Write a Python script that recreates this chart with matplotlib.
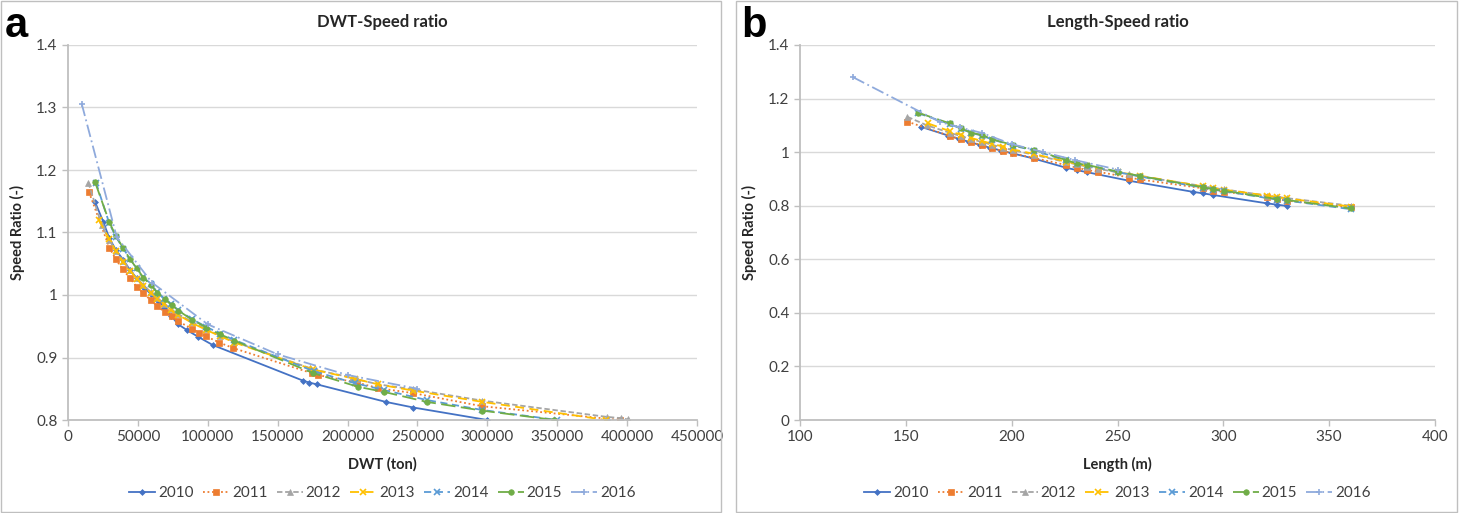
import matplotlib
matplotlib.use('Agg')
import matplotlib.pyplot as plt
from matplotlib.patches import Rectangle
from matplotlib.ticker import FuncFormatter

plt.rcParams['font.family'] = ['Lato', 'DejaVu Sans']

years = ['2010', '2011', '2012', '2013', '2014', '2015', '2016']

# panel a: DWT (ton) vs speed ratio
dwt_2010 = [19300, 25300, 29500, 34300, 39600, 44400, 49100, 54400, 59100, 64600, 69000, 74000,
            78900, 85000, 93200, 103500, 168100, 172400, 178100, 227300, 247000, 300000]
dsr_2010 = [1.149, 1.117, 1.091, 1.072, 1.056, 1.040, 1.027, 1.012, 1.002, 0.991, 0.980, 0.966,
            0.953, 0.944, 0.933, 0.920, 0.863, 0.860, 0.857, 0.829, 0.820, 0.800]
dwt_2011 = [15000, 29500, 34300, 39100, 44400, 49100, 53900, 59100, 63900, 69100, 74200, 78900,
            88500, 93700, 98700, 108200, 118300, 174300, 178500, 206500, 222000, 247000, 296400, 395000]
dsr_2011 = [1.165, 1.076, 1.057, 1.041, 1.027, 1.013, 1.003, 0.992, 0.982, 0.973, 0.966, 0.958,
            0.946, 0.940, 0.934, 0.924, 0.915, 0.875, 0.872, 0.860, 0.851, 0.843, 0.822, 0.800]
dwt_2012 = [14500, 24100, 29500, 34300, 39600, 44400, 49100, 54000, 59100, 64000, 69000, 74000, 79000,
            89000, 99000, 109000, 119000, 173100, 177400, 203000, 207000, 222000, 247000, 296400,
            385400, 395400, 400400]
dsr_2012 = [1.180, 1.112, 1.088, 1.070, 1.054, 1.040, 1.027, 1.016, 1.005, 0.995, 0.986, 0.977, 0.969,
            0.957, 0.945, 0.935, 0.925, 0.883, 0.880, 0.868, 0.865, 0.857, 0.849, 0.831,
            0.805, 0.803, 0.801]
dwt_2013 = [22000, 29500, 34300, 39600, 44400, 49100, 54000, 59100, 64000, 69000, 74000, 79000,
            89000, 99000, 109000, 119000, 175000, 205000, 222000, 247000, 296400, 385000]
dsr_2013 = [1.120, 1.090, 1.070, 1.053, 1.039, 1.026, 1.015, 1.004, 0.994, 0.985, 0.976, 0.968,
            0.955, 0.944, 0.934, 0.924, 0.881, 0.866, 0.857, 0.847, 0.829, 0.800]
dwt_2014 = [20000, 29500, 34300, 39600, 44400, 49100, 54000, 59100, 64000, 69000, 74000, 79000,
            89000, 99000, 109000, 119000, 176000, 205000, 226000, 256600, 296400, 350000]
dsr_2014 = [1.180, 1.115, 1.093, 1.074, 1.058, 1.043, 1.029, 1.017, 1.005, 0.994, 0.985, 0.976,
            0.961, 0.949, 0.938, 0.928, 0.878, 0.859, 0.848, 0.832, 0.816, 0.800]
dwt_2015 = [19300, 29500, 34300, 39600, 44400, 49100, 53900, 59100, 63900, 69400, 74200, 79000,
            89000, 99000, 109000, 119000, 175500, 207700, 226000, 256600, 296400, 348000]
dsr_2015 = [1.181, 1.117, 1.094, 1.075, 1.057, 1.043, 1.028, 1.016, 1.004, 0.993, 0.984, 0.975,
            0.960, 0.948, 0.937, 0.927, 0.875, 0.853, 0.845, 0.829, 0.815, 0.800]
dwt_2016 = [9800, 34800, 60000, 100000, 150000, 200000, 250000]
dsr_2016 = [1.306, 1.093, 1.020, 0.953, 0.905, 0.872, 0.850]

# panel b: length (m) vs speed ratio
len_2010 = [157, 170, 175, 180, 185, 190, 195, 200, 210, 225.6, 230.7, 235.7, 255.6, 285.5,
            290.5, 295.2, 320.5, 325.2, 330.2]
lsr_2010 = [1.095, 1.062, 1.050, 1.038, 1.027, 1.016, 1.006, 0.996, 0.977, 0.942, 0.933, 0.925,
            0.893, 0.852, 0.846, 0.840, 0.809, 0.804, 0.799]
len_2011 = [150.7, 170.9, 175.9, 180.8, 185.8, 190.9, 195.7, 200.8, 210.7, 225.6, 230.7, 235.7,
            240.7, 255.6, 260.6, 290.5, 295.2, 300.3, 320.5, 325.2, 330.2, 360.2]
lsr_2011 = [1.114, 1.060, 1.048, 1.037, 1.026, 1.014, 1.004, 0.995, 0.978, 0.952, 0.942, 0.933,
            0.927, 0.905, 0.898, 0.865, 0.856, 0.852, 0.834, 0.825, 0.819, 0.794]
len_2012 = [150.7, 160, 170.9, 175.9, 180.8, 185.8, 190.9, 195.7, 200.8, 210.7, 225.6, 230.7,
            235.7, 240.7, 255.6, 260.6, 290.5, 295.2, 300.3, 320.5, 325.2, 330.2, 360.2]
lsr_2012 = [1.132, 1.100, 1.072, 1.060, 1.049, 1.038, 1.027, 1.017, 1.007, 0.990, 0.963, 0.954,
            0.946, 0.938, 0.917, 0.910, 0.873, 0.866, 0.861, 0.838, 0.833, 0.828, 0.800]
len_2013 = [160.6, 170.9, 175.9, 180.8, 185.8, 190.9, 195.7, 200.8, 210.7, 225.6, 230.7, 235.7,
            250.4, 260.6, 290.5, 295.2, 300.3, 320.5, 325.2, 330.2, 360.2]
lsr_2013 = [1.107, 1.078, 1.065, 1.053, 1.042, 1.031, 1.021, 1.010, 0.993, 0.965, 0.956, 0.948,
            0.925, 0.912, 0.872, 0.866, 0.860, 0.838, 0.832, 0.827, 0.797]
len_2014 = [155.9, 170.9, 175.9, 180.8, 185.8, 190.9, 200.8, 210.7, 225.6, 230.7, 235.7, 250.4,
            260.6, 290.5, 295.2, 300.3, 325.2, 330.2, 360.2]
lsr_2014 = [1.145, 1.105, 1.088, 1.072, 1.062, 1.047, 1.024, 1.006, 0.969, 0.956, 0.950, 0.925,
            0.909, 0.867, 0.860, 0.854, 0.823, 0.819, 0.787]
len_2015 = [155.9, 170.9, 175.9, 180.8, 185.8, 190.9, 200.8, 210.7, 225.6, 230.7, 235.7, 250.4,
            260.6, 290.5, 295.2, 300.3, 325.2, 330.2, 360.2]
lsr_2015 = [1.147, 1.107, 1.089, 1.073, 1.064, 1.048, 1.026, 1.008, 0.971, 0.958, 0.952, 0.927,
            0.911, 0.869, 0.861, 0.856, 0.825, 0.821, 0.790]
len_2016 = [125, 166, 175.6, 185.8, 200, 215, 230, 250]
lsr_2016 = [1.280, 1.113, 1.092, 1.072, 1.030, 1.000, 0.970, 0.935]

dwt_x = [dwt_2010, dwt_2011, dwt_2012, dwt_2013, dwt_2014, dwt_2015, dwt_2016]
dwt_y = [dsr_2010, dsr_2011, dsr_2012, dsr_2013, dsr_2014, dsr_2015, dsr_2016]
len_x = [len_2010, len_2011, len_2012, len_2013, len_2014, len_2015, len_2016]
len_y = [lsr_2010, lsr_2011, lsr_2012, lsr_2013, lsr_2014, lsr_2015, lsr_2016]

styles = [
    dict(color='#4472C4', ls='-', marker='D', ms=3),
    dict(color='#ED7D31', ls=(0, (1, 1.5)), marker='s', ms=4.5),
    dict(color='#A5A5A5', ls=(0, (3, 1.5)), marker='^', ms=4.5),
    dict(color='#FFC000', ls=(0, (5, 3)), marker='x', ms=4),
    dict(color='#5B9BD5', ls=(0, (4, 2.5)), marker='x', ms=4),
    dict(color='#70AD47', ls=(0, (8, 3)), marker='o', ms=4),
    dict(color='#8FAADC', ls=(0, (7, 2, 1, 2)), marker='+', ms=5),
]

fig = plt.figure(figsize=(14.59, 5.13), dpi=100)
W, H = 1459, 513

for x0, x1 in [(1, 721), (736, 1457)]:
    fig.patches.append(Rectangle((x0 / W, 1 / H), (x1 - x0) / W, (H - 2) / H, transform=fig.transFigure,
                                 fill=False, edgecolor='#BFBFBF', lw=1))


def style_axes(ax):
    for s in ['top', 'right']:
        ax.spines[s].set_visible(False)
    for s in ['left', 'bottom']:
        ax.spines[s].set_color('#BFBFBF')
        ax.spines[s].set_linewidth(1.3)
    ax.grid(axis='y', color='#D9D9D9', lw=1)
    ax.set_axisbelow(True)
    ax.tick_params(colors='#BFBFBF', labelcolor='#404040', labelsize=11, length=4, width=1)
    ax.yaxis.set_major_formatter(FuncFormatter(lambda v, p: f'{v:g}'))


def draw(ax, xs, ys):
    handles = []
    for x, y, st, yr in zip(xs, ys, styles, years):
        h, = ax.plot(x, y, color=st['color'], ls=st['ls'], lw=1.3, marker=st['marker'],
                     ms=st['ms'], mew=1.2 if st['marker'] in 'x+' else 0.5, label=yr)
        handles.append(h)
    return handles


def finish(ax, handles, xlabel, title):
    style_axes(ax)
    ax.set_xlabel(xlabel, fontsize=10.5, fontweight='bold', color='#262626', labelpad=9)
    ax.set_ylabel('Speed Ratio (-)', fontsize=10.5, fontweight='bold', color='#262626', labelpad=8)
    ax.set_title(title, fontsize=12, fontweight='bold', color='#262626', pad=13)
    ax.legend(handles=handles, loc='center', bbox_to_anchor=(0.5, -0.195), ncol=7, frameon=False,
              fontsize=11, handlelength=1.7, columnspacing=0.6, handletextpad=0.2,
              labelcolor='#404040')


# panel a
ax1 = fig.add_axes([68 / W, 1 - 420 / H, 629 / W, 375 / H])
h = draw(ax1, dwt_x, dwt_y)
ax1.set_xlim(0, 450000)
ax1.set_ylim(0.8, 1.4)
ax1.set_xticks(range(0, 450001, 50000))
ax1.set_yticks([0.8, 0.9, 1.0, 1.1, 1.2, 1.3, 1.4])
finish(ax1, h, 'DWT (ton)', 'DWT-Speed ratio')

# panel b
ax2 = fig.add_axes([800 / W, 1 - 420 / H, 635 / W, 375 / H])
h = draw(ax2, len_x, len_y)
ax2.set_xlim(100, 400)
ax2.set_ylim(0, 1.4)
ax2.set_xticks(range(100, 401, 50))
ax2.set_yticks([0, 0.2, 0.4, 0.6, 0.8, 1.0, 1.2, 1.4])
finish(ax2, h, 'Length (m)', 'Length-Speed ratio')

letter_font = ['Liberation Sans Narrow', 'Liberation Sans']
fig.text(5 / W, 1 - 37 / H, 'a', fontsize=30, fontweight='bold', family=letter_font)
fig.text(741 / W, 1 - 37 / H, 'b', fontsize=30, fontweight='bold', family=letter_font)

fig.savefig('out.png', dpi=100)
